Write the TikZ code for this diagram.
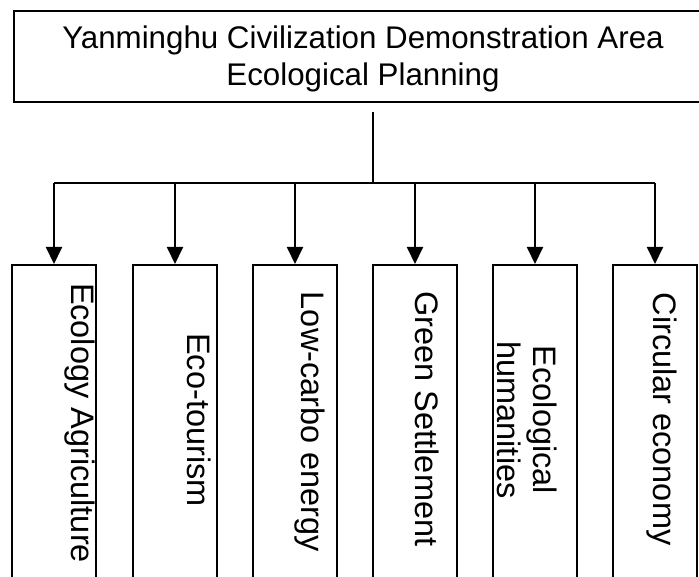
\documentclass[tikz,border=0pt]{standalone}
\usepackage{fontspec}
\setmainfont{Liberation Sans}
\usetikzlibrary{arrows.meta}
\begin{document}
\begin{tikzpicture}[x=1pt,y=-1pt,
  boxframe/.style={draw,line width=1.6pt,rectangle,inner sep=0pt},
  lowbox/.style={boxframe,minimum width=84pt,minimum height=340pt,anchor=north},
  label/.style={rotate=-90,inner sep=0pt,font=\fontsize{32.5}{36}\selectfont,align=center},
  conn/.style={line width=2pt},
  arr/.style={conn,-{Triangle[length=17pt,width=16pt]}}]
\clip (0,0) rectangle (699,577);
\fill[white] (0,0) rectangle (699,577);
% top box
\node[boxframe,minimum width=698pt,minimum height=91pt] (top) at (363,56.5) {};
\node[align=center,inner sep=0pt,font=\fontsize{31.3}{37}\selectfont] (title) at (363,59)
  {Yanminghu Civilization Demonstration Area\\Ecological Planning};
% lower boxes
\node[lowbox] (b1) at (54,264) {};
\node[lowbox] (b2) at (175,264) {};
\node[lowbox] (b3) at (295,264) {};
\node[lowbox] (b4) at (415,264) {};
\node[lowbox] (b5) at (535,264) {};
\node[lowbox] (b6) at (655,264) {};
% labels
\node[label] (t1) at (80,423) {Ecology Agriculture};
\node[label] (t2) at (199,420) {Eco-tourism};
\node[label] (t3) at (310,422) {Low-carbo energy};
\node[label] (t4) at (427,419) {Green Settlement};
\node[label] (t5) at (527,420) {Ecological\\humanities};
\node[label] (t6) at (662,419) {Circular economy};
% connectors
\coordinate (stem) at (373,112);
\coordinate (j) at (373,183);
\draw[conn] (stem) -- (j);
\foreach \i in {1,...,6} {\coordinate (d\i) at (b\i.north |- j);}
\draw[conn] (d1) -- (d6);
\foreach \i in {1,...,6} {\draw[arr] (d\i) -- (b\i.north);}
\end{tikzpicture}
\end{document}
